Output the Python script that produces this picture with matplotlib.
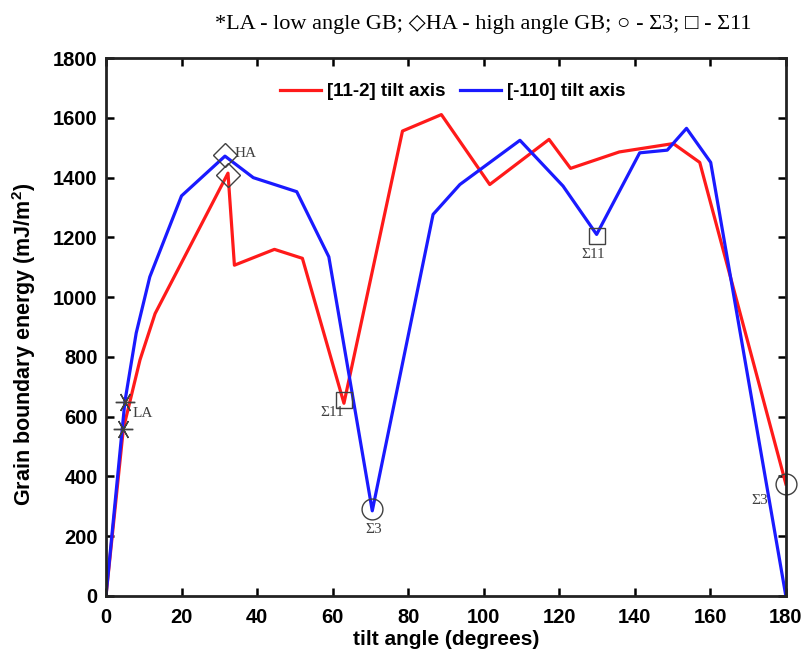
import numpy as np
import matplotlib
matplotlib.use('Agg')
import matplotlib.pyplot as plt

plt.rcParams['font.family'] = ['Liberation Sans', 'DejaVu Sans']
plt.rcParams['mathtext.fontset'] = 'custom'
plt.rcParams['mathtext.bf'] = 'Liberation Sans:bold'

# === data ===
red_angle = [0, 4.6, 9, 13, 32.3, 34, 44.6, 52, 63, 78.5, 88.8, 101.6, 117.3, 123, 135.9, 150.2, 157.2, 180]
red_energy = [0, 560, 790, 945, 1415, 1107, 1160, 1130, 645, 1556, 1611, 1377, 1528, 1431, 1486, 1514, 1451, 375]

blue_angle = [0, 5, 8, 11.6, 20, 31.5, 39, 50.5, 59, 70.5, 86.6, 93.7, 109.6, 121, 129.9, 141.3, 148.6, 153.7, 160.1, 180]
blue_energy = [0, 650, 880, 1068, 1339, 1472, 1400, 1353, 1135, 285, 1277, 1377, 1525, 1372, 1210, 1483, 1492, 1565, 1451, 0]

# special boundaries: (angle, energy)
la_pts = [(5, 650), (4.6, 560)]
ha_pts = [(31.5, 1475), (32.3, 1410)]
s3_pts = [(70.5, 290), (180, 375)]
s11_pts = [(63, 655), (129.9, 1205)]

fig = plt.figure(figsize=(8.06, 6.53), dpi=100)
ax = fig.add_axes([0.1315, 0.0873, 0.8435, 0.8237])

ax.plot(red_angle, red_energy, color='#ff1a1a', lw=2.3, label='[11-2] tilt axis')
ax.plot(blue_angle, blue_energy, color='#1a1aff', lw=2.3, label='[-110] tilt axis')

mk = dict(color='#404040', linestyle='none', mfc='none', mew=1.0, clip_on=False)
ax.plot(*zip(*la_pts), marker=(6, 2, 90), ms=14, **mk)
ax.plot(*zip(*ha_pts), marker='D', ms=12, **mk)
ax.plot(*zip(*s3_pts), marker='o', ms=15, **mk)
ax.plot(*zip(*s11_pts), marker='s', ms=11, **mk)

serif = ['Liberation Serif', 'DejaVu Serif']
lab = dict(family=serif, color='#404040', fontsize=11, va='center')
ax.text(7, 612, 'LA', ha='left', **lab)
ax.text(34, 1482, 'HA', ha='left', **lab)
ax.text(60, 615, 'Σ11', ha='center', **lab)
ax.text(71, 221, 'Σ3', ha='center', **lab)
ax.text(129, 1144, 'Σ11', ha='center', **lab)
ax.text(173, 321, 'Σ3', ha='center', **lab)

ax.set_xlim(0, 180)
ax.set_ylim(0, 1800)
ax.set_xticks(np.arange(0, 181, 20))
ax.set_yticks(np.arange(0, 1801, 200))
ax.tick_params(direction='in', length=6, width=1.8, top=True, right=True,
               labelsize=14.5, pad=6)
ax.tick_params(axis='x', pad=9)
for t in ax.get_xticklabels() + ax.get_yticklabels():
    t.set_fontweight('bold')
for s in ax.spines.values():
    s.set_linewidth(2)
    s.set_color('#222222')

ax.set_xlabel('tilt angle (degrees)', fontsize=15, fontweight='bold', labelpad=2)
ax.set_ylabel('Grain boundary energy (mJ/m$\\mathbf{^2}$)', fontsize=15.5, fontweight='bold')
ax.yaxis.set_label_coords(-0.1, 0.468)

leg = ax.legend(loc='upper center', ncol=2, frameon=False,
                prop={'weight': 'bold', 'size': 13.5}, handlelength=2.2,
                handletextpad=0.3, columnspacing=0.8, bbox_to_anchor=(0.51, 0.985))

fig.text(0.60, 0.962, '*LA - low angle GB; \u25C7HA - high angle GB; \u25CB - \u03A33; \u25A1 - \u03A311',
         ha='center', va='center', fontsize=16, family=serif)

fig.savefig('out.png', dpi=100)
